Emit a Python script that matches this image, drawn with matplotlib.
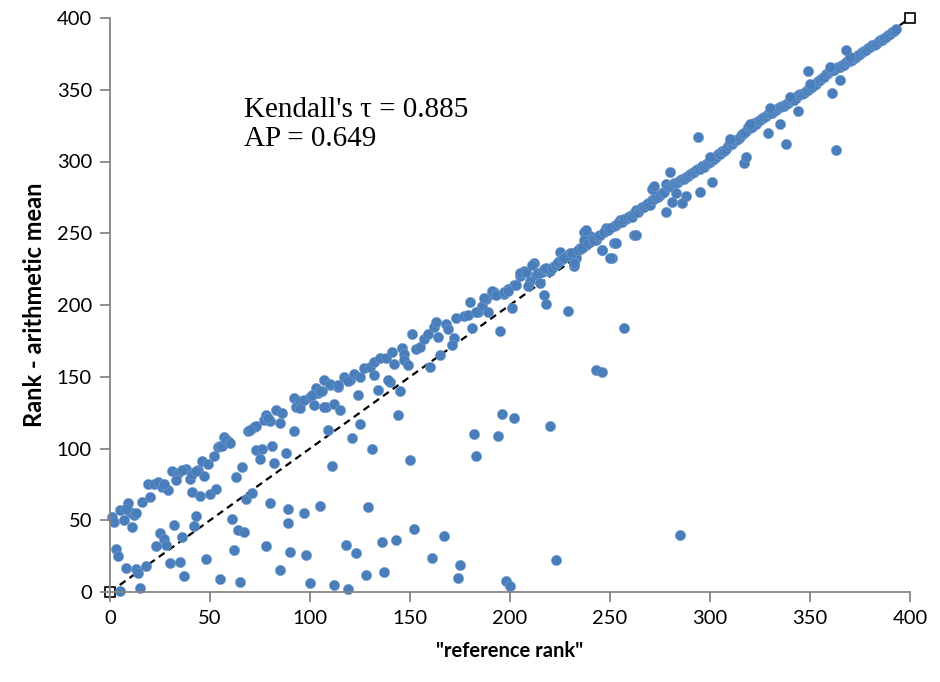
import matplotlib
matplotlib.use("Agg")
import matplotlib.pyplot as plt

# ---- data (reference rank, rank by arithmetic mean) ----
low_band = [(1,52),(2,49),(5,57),(7,50),(9,62),(10,56),(12,54),(11,45),(16,63),(20,66),
            (19,75),(22,75),(24,77),(26,73),(29,71),(31,84),(34,83),(33,78),(38,86),(40,79),
            (41,82),(41,70),(45,67),(44,85),(46,91),(47,81),(49,89),(50,68),(53,72),(52,95),
            (54,101),(55,102),(57,108),(59,105),(56,102),(58,106),(60,104),(13,55),(8,58),
            (36,85),(43,84),(27,75)]
low_scatter = [(3,30),(4,25),(8,17),(13,16),(14,13),(18,18),(15,3),(5,1),(23,32),(25,41),
               (27,37),(28,33),(32,47),(30,20),(35,21),(37,11),(36,38),(43,53),(42,46),(48,23),
               (55,9),(61,51),(64,43),(67,42),(62,29),(65,7),(68,65),(71,69),(63,80),(66,87),
               (80,62),(78,32),(85,15),(89,58),(89,48),(90,28)]
mid_band = [(69,112),(72,115),(73,116),(73,99),(75,93),(76,100),(77,120),(78,123),(80,119),
            (81,102),(82,90),(83,127),(86,125),(85,118),(88,97),(92,135),(92,112),(93,129),
            (95,133),(95,128),(97,134),(100,136),(102,130),(103,142),(104,139),(107,148),
            (110,144),(108,129),(109,113),(112,131),(111,88),(70,113),(79,121),
            (106,140),(110,145),(114,143),(117,150),(120,148),(122,152),(125,150),(127,156),
            (130,157),(132,151),(132,160),(135,163),(138,163),(141,167),(142,159),(146,170),
            (147,166),(147,162),(149,158),(151,180),(153,169),(155,171),(157,176),(159,180),
            (162,185),(163,188),(164,178),(168,187),(169,183),(172,177),(171,172),(165,165),
            (160,157),(173,191),(177,192),(179,193),(181,184),(180,202),(184,195),(186,199),
            (188,204),(189,195),(191,208),(192,209),(195,182),(197,208),(199,211),(201,198),
            (202,214),(205,220),(119,147),(115,127),(107,129),(124,137),(134,141),(140,146),
            (145,140),(121,107),(125,117),(131,100),(144,123),(150,92),(191,210),(193,207),
            (187,205),(183,195),(197,209),(199,210),(114,144),(139,148),(101,137),(105,140)]
mid_scatter = [(97,55),(105,60),(98,26),(100,6),(129,59),(118,33),(123,27),(112,5),(119,2),
               (128,12),(136,35),(143,36),(137,14),(152,44),(161,24),(167,39),(175,19),(174,10),
               (182,110),(183,95),(196,124),(202,121),(194,109),(220,116),(285,40),(223,22),
               (198,8),(200,4),(243,155),(246,153),(257,184),(217,207),(218,201),(229,196)]
upper_band = [(203,214),(207,224),(210,217),(213,221),(215,215),(209,213),(205,222),(208,223),
              (212,229),(211,228),(219,224),(222,227),(220,224),(225,231),(229,234),(225,237),
              (228,234),(230,236),(232,230),(233,233),(232,227),(235,240),(238,242),(237,251),
              (240,248),(243,246),(237,245),(243,245),(248,254),(252,255),(255,259),(258,260),
              (251,233),(246,238),(252,243),(262,249),(232,229),
              (214,222),(216,223),(217,225),(218,226),(221,226),(223,228),(224,230),(226,232),
              (227,233),(230,234),(231,236),(234,238),(236,240),(239,243),(241,246),(242,245),
              (244,248),(245,249),(247,251),(249,252),(250,254),(253,256),(254,257),(256,258),
              (257,260),(259,261)]
top_band = [(260,262),(261,261),(262,264),(263,266),(264,265),(265,267),(266,268),(267,268),
            (268,270),(269,271),(270,270),(271,273),(272,274),(273,275),(274,275),(275,277),
            (276,278),(277,279),(278,284),(279,282),(280,283),(281,283),(282,285),(283,285),
            (284,286),(285,287),(286,288),(287,288),(288,289),(289,290),(290,291),(291,292),
            (292,293),(293,294),(294,295),(295,295),(296,297),(297,296),(298,298),(299,299),
            (300,300),(301,301),(302,302),(303,303),(304,305),(305,305),(306,307),(307,307),
            (308,309),(309,311),(310,313),(311,312),(312,314),(313,315),(314,316),(315,317),
            (316,319),(317,320),(318,321),(319,324),(320,323),(321,324),(322,327),(323,326),
            (324,328),(325,329),(326,330),(327,331),(328,332),(329,333),(330,334),(331,334),
            (332,335),(333,336),(334,337),(335,338),(336,339),(337,339),(338,340),(339,341),
            (340,342),(341,343),(342,343),(343,344),(344,346),(345,347),(346,347),(347,348),
            (348,349),(349,350),(350,351),(351,352),(352,353),(353,354),(354,356),(355,357),
            (356,358),(357,359),(358,361),(359,362),(360,363),(361,364),(362,364),(363,365),
            (364,366),(365,366),(366,367),(367,367),(368,369),(369,370),(370,370),(371,371),
            (372,372),(373,373),(374,374),(375,375),(376,376),(377,377),(378,378),(379,379),
            (380,380),(381,381),(382,381),(383,382),(384,383),(385,385),(386,385),(387,386),
            (388,387),(389,388),(390,389),(391,390),(392,391),(393,392),
            (300,303),(310,316),(320,326),(330,337),(340,345),(350,354),(360,366),(370,373)]
top_scatter = [(294,317),(349,363),(368,378),(363,308),(338,312),(329,320),(335,326),(344,335),
               (361,348),(365,357),(317,299),(318,303),(301,286),(295,279),(288,276),(286,271),
               (281,272),(278,265),(280,293),(283,278),(271,281),(272,283),(263,249),(253,243),
               (250,233),(246,238),(238,252),(232,229)]

diag_x = [0, 400]
diag_y = [0, 400]
x_ticks = [0, 50, 100, 150, 200, 250, 300, 350, 400]
y_ticks = [0, 50, 100, 150, 200, 250, 300, 350, 400]
stats_text = "Kendall's \u03c4 = 0.885\nAP = 0.649"

points = low_band + low_scatter + mid_band + mid_scatter + upper_band + top_band + top_scatter
xs = [p[0] for p in points]
ys = [p[1] for p in points]

fig = plt.figure(figsize=(9.4, 6.82), dpi=100)
ax = fig.add_axes([110/940, 90/682, 800/940, 574/682])

ax.plot(diag_x, diag_y, color="black", linestyle=(0, (3.2, 2.2)), linewidth=1.6,
        marker="s", markersize=7, markerfacecolor="white", markeredgecolor="black",
        markeredgewidth=1.2, zorder=1.5, clip_on=False)
ax.scatter(xs, ys, s=54, color="#4A7EBB", edgecolors="#6E99CF", linewidths=0.4,
           zorder=2, clip_on=False)

ax.set_xlim(0, 400)
ax.set_ylim(0, 400)
ax.set_xticks(x_ticks)
ax.set_yticks(y_ticks)
ax.set_xticklabels([str(t) for t in x_ticks])
ax.set_yticklabels([str(t) for t in y_ticks])

for s in ("top", "right"):
    ax.spines[s].set_visible(False)
for s in ("left", "bottom"):
    ax.spines[s].set_color("#868686")
    ax.spines[s].set_linewidth(1.3)
ax.tick_params(axis="both", direction="out", length=7, width=1.3, color="#868686",
               labelsize=14.5, pad=6)
for lab in ax.get_xticklabels() + ax.get_yticklabels():
    lab.set_fontfamily("Lato")

ax.set_xlabel('"reference rank"', fontsize=14.5, fontweight="bold", family="Lato", labelpad=10)
ax.set_ylabel("Rank - arithmetic mean", fontsize=17, fontweight="bold", family="Lato", labelpad=8)

ax.text(67, 311, stats_text, fontsize=21, family="Liberation Serif", va="baseline",
        ha="left", linespacing=1.15)

fig.savefig("out.png", dpi=100)
